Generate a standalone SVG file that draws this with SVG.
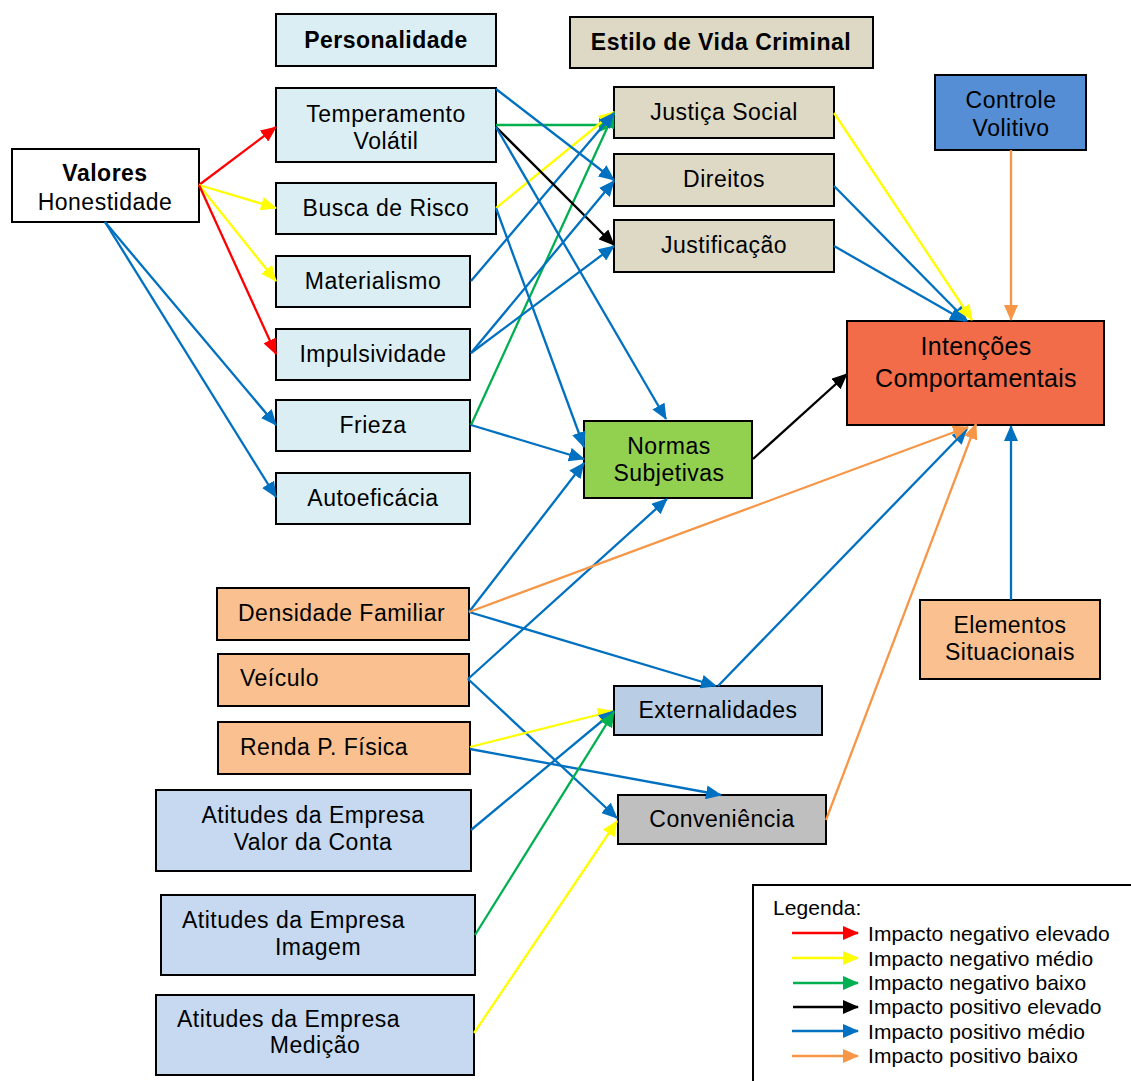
<svg xmlns="http://www.w3.org/2000/svg" width="1131" height="1081" viewBox="0 0 1131 1081">
  <style>
    .box { stroke: #000; stroke-width: 2; }
    .t { font-family: "Liberation Sans", Arial, sans-serif; font-size: 23px; letter-spacing: 0.5px; fill: #000; text-anchor: middle; }
    .l { text-anchor: start; }
    .b { font-weight: bold; }
    .big { font-size: 25px; letter-spacing: 0.3px; }
    .leg { font-family: "Liberation Sans", Arial, sans-serif; font-size: 21px; letter-spacing: 0.1px; fill: #000; }
    .pers { fill: #DBEEF4; }
    .crim { fill: #DDD9C4; }
    .ctrl { fill: #558ED5; }
    .int { fill: #F26C4A; }
    .norm { fill: #92D050; }
    .peach { fill: #FAC08F; }
    .att { fill: #C6D9F1; }
    .ext { fill: #B9CDE5; }
    .conv { fill: #BFBFBF; }
    .c { fill: none; stroke-width: 2.3; }
    .red { stroke: #FF0000; marker-end: url(#aRed); }
    .yel { stroke: #FFFF00; marker-end: url(#aYel); }
    .grn { stroke: #00B050; marker-end: url(#aGrn); }
    .blk { stroke: #000000; marker-end: url(#aBlk); }
    .blu { stroke: #0070C0; marker-end: url(#aBlu); }
    .org { stroke: #F79646; marker-end: url(#aOrg); }
  </style>
  <defs>
    <marker id="aRed" markerUnits="userSpaceOnUse" viewBox="0 0 16 14" markerWidth="16" markerHeight="14" refX="15" refY="7" orient="auto"><path d="M0,0 L16,7 L0,14 z" fill="#FF0000"/></marker>
    <marker id="aYel" markerUnits="userSpaceOnUse" viewBox="0 0 16 14" markerWidth="16" markerHeight="14" refX="15" refY="7" orient="auto"><path d="M0,0 L16,7 L0,14 z" fill="#FFFF00"/></marker>
    <marker id="aGrn" markerUnits="userSpaceOnUse" viewBox="0 0 16 14" markerWidth="16" markerHeight="14" refX="15" refY="7" orient="auto"><path d="M0,0 L16,7 L0,14 z" fill="#00B050"/></marker>
    <marker id="aBlk" markerUnits="userSpaceOnUse" viewBox="0 0 16 14" markerWidth="16" markerHeight="14" refX="15" refY="7" orient="auto"><path d="M0,0 L16,7 L0,14 z" fill="#000000"/></marker>
    <marker id="aBlu" markerUnits="userSpaceOnUse" viewBox="0 0 16 14" markerWidth="16" markerHeight="14" refX="15" refY="7" orient="auto"><path d="M0,0 L16,7 L0,14 z" fill="#0070C0"/></marker>
    <marker id="aOrg" markerUnits="userSpaceOnUse" viewBox="0 0 16 14" markerWidth="16" markerHeight="14" refX="15" refY="7" orient="auto"><path d="M0,0 L16,7 L0,14 z" fill="#F79646"/></marker>
  </defs>

  <rect width="1131" height="1081" fill="#FFFFFF"/>

  <!-- group headers -->
  <g id="personalidade">
    <rect class="box pers" x="276" y="14" width="220" height="52"/>
    <text class="t b" x="386" y="48">Personalidade</text>
  </g>
  <g id="estilo-vida-criminal">
    <rect class="box crim" x="570" y="17" width="303" height="51"/>
    <text class="t b" x="721" y="50">Estilo de Vida Criminal</text>
  </g>

  <!-- values -->
  <g id="valores">
    <rect class="box" fill="#FFFFFF" x="12" y="149" width="187" height="73"/>
    <text class="t b" x="105" y="181">Valores</text>
    <text class="t" x="105" y="210">Honestidade</text>
  </g>

  <!-- personality traits -->
  <g id="temperamento">
    <rect class="box pers" x="276" y="88" width="220" height="74"/>
    <text class="t" x="386" y="122">Temperamento</text>
    <text class="t" x="386" y="149">Volátil</text>
  </g>
  <g id="busca-risco">
    <rect class="box pers" x="276" y="183" width="220" height="51"/>
    <text class="t" x="386" y="216">Busca de Risco</text>
  </g>
  <g id="materialismo">
    <rect class="box pers" x="276" y="256" width="194" height="51"/>
    <text class="t" x="373" y="289">Materialismo</text>
  </g>
  <g id="impulsividade">
    <rect class="box pers" x="276" y="329" width="194" height="51"/>
    <text class="t" x="373" y="362">Impulsividade</text>
  </g>
  <g id="frieza">
    <rect class="box pers" x="276" y="400" width="194" height="51"/>
    <text class="t" x="373" y="433">Frieza</text>
  </g>
  <g id="autoeficacia">
    <rect class="box pers" x="276" y="473" width="194" height="51"/>
    <text class="t" x="373" y="506">Autoeficácia</text>
  </g>

  <!-- criminal lifestyle -->
  <g id="justica-social">
    <rect class="box crim" x="614" y="87" width="220" height="51"/>
    <text class="t" x="724" y="120">Justiça Social</text>
  </g>
  <g id="direitos">
    <rect class="box crim" x="614" y="154" width="220" height="52"/>
    <text class="t" x="724" y="187">Direitos</text>
  </g>
  <g id="justificacao">
    <rect class="box crim" x="614" y="220" width="220" height="52"/>
    <text class="t" x="724" y="253">Justificação</text>
  </g>

  <g id="controle-volitivo">
    <rect class="box ctrl" x="935" y="75" width="151" height="75"/>
    <text class="t" x="1011" y="108">Controle</text>
    <text class="t" x="1011" y="136">Volitivo</text>
  </g>

  <g id="intencoes">
    <rect class="box int" x="847" y="321" width="257" height="104"/>
    <text class="t big" x="976" y="355">Intenções</text>
    <text class="t big" x="976" y="387">Comportamentais</text>
  </g>

  <g id="normas-subjetivas">
    <rect class="box norm" x="584" y="421" width="168" height="77"/>
    <text class="t" x="669" y="454">Normas</text>
    <text class="t" x="669" y="481">Subjetivas</text>
  </g>

  <!-- socio-economic factors -->
  <g id="densidade-familiar">
    <rect class="box peach" x="217" y="588" width="252" height="52"/>
    <text class="t l" x="238" y="621">Densidade Familiar</text>
  </g>
  <g id="veiculo">
    <rect class="box peach" x="218" y="654" width="251" height="52"/>
    <text class="t l" x="240" y="686">Veículo</text>
  </g>
  <g id="renda">
    <rect class="box peach" x="218" y="722" width="252" height="52"/>
    <text class="t l" x="240" y="755">Renda P. Física</text>
  </g>

  <!-- company attitudes -->
  <g id="atitudes-valor">
    <rect class="box att" x="156" y="790" width="315" height="81"/>
    <text class="t" x="313" y="823">Atitudes da Empresa</text>
    <text class="t" x="313" y="850">Valor da Conta</text>
  </g>
  <g id="atitudes-imagem">
    <rect class="box att" x="161" y="895" width="314" height="80"/>
    <text class="t l" x="182" y="928">Atitudes da Empresa</text>
    <text class="t" x="318" y="955">Imagem</text>
  </g>
  <g id="atitudes-medicao">
    <rect class="box att" x="156" y="995" width="318" height="80"/>
    <text class="t l" x="177" y="1027">Atitudes da Empresa</text>
    <text class="t" x="315" y="1053">Medição</text>
  </g>

  <g id="externalidades">
    <rect class="box ext" x="614" y="686" width="208" height="49"/>
    <text class="t" x="718" y="718">Externalidades</text>
  </g>
  <g id="conveniencia">
    <rect class="box conv" x="618" y="795" width="208" height="49"/>
    <text class="t" x="722" y="827">Conveniência</text>
  </g>

  <g id="elementos-situacionais">
    <rect class="box peach" x="920" y="600" width="180" height="79"/>
    <text class="t" x="1010" y="633">Elementos</text>
    <text class="t" x="1010" y="660">Situacionais</text>
  </g>

  <!-- connectors -->
  <g id="connectors">
    <!-- from values -->
    <line class="c red" x1="199" y1="185" x2="276" y2="127"/>
    <line class="c yel" x1="199" y1="185" x2="276" y2="208"/>
    <line class="c yel" x1="199" y1="185" x2="276" y2="281"/>
    <line class="c red" x1="199" y1="185" x2="276" y2="354"/>
    <line class="c blu" x1="105" y1="222" x2="276" y2="425"/>
    <line class="c blu" x1="105" y1="222" x2="276" y2="497"/>

    <!-- personality to criminal lifestyle / norms -->
    <line class="c grn" x1="496" y1="125" x2="614" y2="125"/>
    <line class="c yel" x1="496" y1="208" x2="614" y2="112"/>
    <line class="c grn" x1="471" y1="425" x2="614" y2="113"/>
    <line class="c blu" x1="471" y1="281" x2="614" y2="113"/>
    <line class="c blu" x1="496" y1="89" x2="614" y2="180"/>
    <line class="c blk" x1="496" y1="127" x2="614" y2="245"/>
    <line class="c blu" x1="496" y1="127" x2="666" y2="419"/>
    <line class="c blu" x1="496" y1="208" x2="584" y2="447"/>
    <line class="c blu" x1="471" y1="353" x2="614" y2="181"/>
    <line class="c blu" x1="471" y1="353" x2="614" y2="246"/>
    <line class="c blu" x1="471" y1="425" x2="584" y2="459"/>

    <!-- into behavioural intentions (top / left) -->
    <line class="c blu" x1="834" y1="186" x2="967" y2="321"/>
    <line class="c blu" x1="834" y1="246" x2="965" y2="321"/>
    <line class="c yel" x1="834" y1="113" x2="972" y2="320"/>
    <line class="c org" x1="1011" y1="150" x2="1011" y2="320"/>
    <line class="c blk" x1="753" y1="459" x2="847" y2="374"/>

    <!-- socio-economic factors -->
    <line class="c blu" x1="469" y1="612" x2="584" y2="463"/>
    <line class="c blu" x1="469" y1="612" x2="716" y2="686"/>
    <line class="c blu" x1="468" y1="679" x2="667" y2="499"/>
    <line class="c blu" x1="468" y1="679" x2="617" y2="818"/>
    <line class="c yel" x1="470" y1="747" x2="613" y2="711"/>
    <line class="c blu" x1="470" y1="749" x2="721" y2="795"/>

    <!-- company attitudes -->
    <line class="c blu" x1="471" y1="830" x2="614" y2="711"/>
    <line class="c grn" x1="475" y1="935" x2="614" y2="712"/>
    <line class="c yel" x1="474" y1="1033" x2="617" y2="821"/>

    <!-- into behavioural intentions (bottom) -->
    <line class="c blu" x1="718" y1="686" x2="967" y2="429"/>
    <line class="c org" x1="469" y1="612" x2="968" y2="427"/>
    <line class="c org" x1="826" y1="820" x2="976" y2="424"/>
    <line class="c blu" x1="1011" y1="600" x2="1011" y2="426"/>
  </g>

  <!-- legend -->
  <g id="legenda">
    <rect x="753" y="885" width="400" height="220" fill="#FFFFFF" stroke="#000" stroke-width="2"/>
    <text class="leg" x="773" y="915">Legenda:</text>
    <line class="c red" x1="792" y1="933" x2="858" y2="933" stroke-width="2.8"/>
    <line class="c yel" x1="792" y1="958" x2="858" y2="958" stroke-width="2.8"/>
    <line class="c grn" x1="793" y1="983" x2="858" y2="983" stroke-width="2.8"/>
    <line class="c blk" x1="793" y1="1007" x2="858" y2="1007" stroke-width="2.8"/>
    <line class="c blu" x1="792" y1="1031" x2="858" y2="1031" stroke-width="2.8"/>
    <line class="c org" x1="792" y1="1056" x2="858" y2="1056" stroke-width="2.8"/>
    <text class="leg" x="868" y="941">Impacto negativo elevado</text>
    <text class="leg" x="868" y="966">Impacto negativo médio</text>
    <text class="leg" x="868" y="990">Impacto negativo baixo</text>
    <text class="leg" x="868" y="1014">Impacto positivo elevado</text>
    <text class="leg" x="868" y="1039">Impacto positivo médio</text>
    <text class="leg" x="868" y="1063">Impacto positivo baixo</text>
  </g>
</svg>
